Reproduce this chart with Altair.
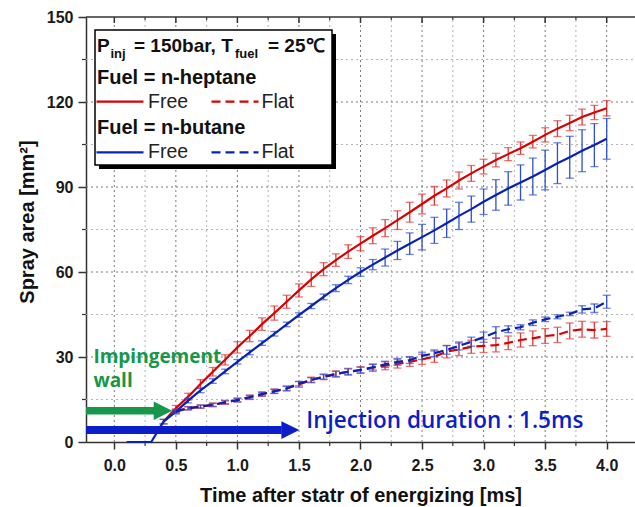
import altair as alt
import pandas as pd

# ---------------- data ----------------
time_hep_free = [0.4, 0.5, 0.6, 0.7, 0.8, 0.9, 1.0, 1.1, 1.2, 1.3, 1.4, 1.5, 1.6, 1.7, 1.8, 1.9,
                 2.0, 2.1, 2.2, 2.3, 2.4, 2.5, 2.6, 2.7, 2.8, 2.9, 3.0, 3.1, 3.2, 3.3, 3.4, 3.5,
                 3.6, 3.7, 3.8, 3.9, 4.0]
hep_free = [7.2, 11.9, 16.0, 20.5, 24.8, 29.0, 33.4, 37.4, 41.6, 45.5, 49.5, 53.5, 57.4, 61.0,
            64.2, 67.2, 70.0, 72.8, 75.5, 78.3, 81.1, 84.0, 86.9, 89.5, 92.3, 94.8, 97.2, 99.5,
            101.6, 103.7, 106.0, 108.4, 110.6, 112.6, 114.7, 116.3, 117.8]
hep_free_err = [0.8, 1.0, 1.2, 1.5, 1.5, 1.8, 2.0, 2.0, 2.2, 2.5, 2.3, 2.3, 2.5, 2.3, 2.2, 2.4,
                2.5, 2.8, 3.0, 3.3, 3.5, 3.5, 3.3, 3.0, 3.0, 2.8, 2.6, 2.4, 2.3, 2.2, 2.2, 2.5,
                2.8, 2.7, 2.8, 2.5, 2.7]

time_but_free = [0.1, 0.2, 0.3, 0.4, 0.5, 0.6, 0.7, 0.8, 0.9, 1.0, 1.1, 1.2, 1.3, 1.4, 1.5, 1.6,
                 1.7, 1.8, 1.9, 2.0, 2.1, 2.2, 2.3, 2.4, 2.5, 2.6, 2.7, 2.8, 2.9, 3.0, 3.1, 3.2,
                 3.3, 3.4, 3.5, 3.6, 3.7, 3.8, 3.9, 4.0]
but_free = [0.0, 0.0, 0.0, 7.2, 10.7, 14.6, 18.2, 21.5, 24.9, 28.3, 31.6, 34.9, 38.2, 41.5, 44.8,
            48.0, 51.2, 54.3, 57.2, 60.0, 62.6, 65.1, 67.6, 70.0, 72.3, 74.7, 77.2, 79.8, 82.2,
            84.8, 87.2, 89.5, 91.6, 93.7, 96.0, 98.4, 100.5, 102.8, 104.8, 107.0]
but_free_err = [0.0, 0.0, 0.0, 0.8, 0.8, 0.8, 0.8, 0.8, 0.8, 0.8, 0.8, 0.8, 0.8, 0.8, 0.8, 0.9,
                1.0, 1.2, 1.3, 1.5, 1.8, 3.0, 3.2, 3.8, 4.5, 4.6, 5.0, 4.8, 4.6, 4.5, 5.4, 5.9,
                6.2, 6.5, 7.0, 7.2, 7.4, 7.4, 7.6, 7.2]

time_flat = [0.5, 0.6, 0.7, 0.8, 0.9, 1.0, 1.1, 1.2, 1.3, 1.4, 1.5, 1.6, 1.7, 1.8, 1.9, 2.0,
             2.1, 2.2, 2.3, 2.4, 2.5, 2.6, 2.7, 2.8, 2.9, 3.0, 3.1, 3.2, 3.3, 3.4, 3.5, 3.6,
             3.7, 3.8, 3.9, 4.0]
hep_flat = [11.0, 11.9, 12.5, 13.1, 14.0, 14.8, 15.8, 16.9, 17.9, 18.9, 20.3, 21.9, 23.0, 24.0,
            24.8, 25.4, 26.2, 26.9, 27.6, 28.3, 29.2, 30.1, 31.9, 32.7, 33.6, 33.9, 34.2, 35.0,
            36.0, 36.6, 37.4, 37.8, 39.2, 39.8, 39.5, 39.9]
hep_flat_err = [0.6, 0.6, 0.6, 0.7, 0.7, 0.7, 0.8, 0.8, 0.8, 0.9, 1.0, 1.0, 1.0, 1.1, 1.2, 1.2,
                1.3, 1.4, 1.5, 1.6, 1.8, 2.0, 2.2, 2.2, 2.3, 2.3, 2.4, 2.4, 2.5, 2.6, 2.6, 2.7,
                2.8, 2.8, 2.8, 2.6]
but_flat = [10.7, 11.9, 12.5, 13.1, 14.0, 14.8, 15.8, 16.9, 17.9, 18.9, 20.6, 21.9, 23.0, 24.0,
            24.8, 25.4, 26.4, 27.4, 28.3, 28.9, 30.4, 31.3, 32.5, 33.9, 35.4, 37.0, 38.7, 39.8,
            40.5, 42.1, 43.3, 44.2, 45.2, 46.8, 47.2, 49.5]
but_flat_err = [0.5, 0.5, 0.5, 0.5, 0.5, 0.6, 0.6, 0.6, 0.7, 0.7, 0.8, 0.8, 0.8, 0.9, 1.0, 1.0,
                1.0, 1.1, 1.2, 1.2, 1.3, 1.2, 1.5, 1.4, 1.6, 1.8, 2.0, 1.2, 0.9, 1.0, 0.8, 0.7,
                0.6, 1.3, 1.5, 2.3]

x_major = [0.0, 0.5, 1.0, 1.5, 2.0, 2.5, 3.0, 3.5, 4.0]
x_minor = [0.25, 0.75, 1.25, 1.75, 2.25, 2.75, 3.25, 3.75]
y_major = [0, 30, 60, 90, 120, 150]
y_minor = [15, 45, 75, 105, 135]

# ---------------- styles ----------------
RED = "#d90000"
RED_ERR = "#e23a3a"
BLUE = "#0a22b0"
BLUE_ERR = "#2f4fd2"
GREEN = "#16974a"
INJ_BLUE = "#0b1ec8"
FONT = "Liberation Sans"
ANN_FONT = "Open Sans"

W, H = 549, 425
XMIN, XMAX = -0.23, 4.23
xs = alt.Scale(domain=[XMIN, XMAX], nice=False, zero=False)
ys = alt.Scale(domain=[0, 150], nice=False, zero=False)


def series_df(t, v, e):
    return pd.DataFrame({"t": t, "v": v, "lo": [a - b for a, b in zip(v, e)],
                         "hi": [a + b for a, b in zip(v, e)], "e": e})


xaxis = alt.Axis(values=x_major, format=".1f", grid=False, title="Time after statr of energizing [ms]",
                 tickSize=7, tickWidth=1.5, tickColor="#333", domainColor="#333", domainWidth=1.5,
                 labelFont=FONT, labelFontSize=16, labelFontWeight="bold", labelColor="#1a1a1a",
                 labelPadding=8, titleFont=FONT, titleFontSize=20, titleFontWeight="bold",
                 titleColor="#111", titleY=53, titleBaseline="middle")
yaxis = alt.Axis(values=y_major, grid=False, title="Spray area [mm²]",
                 tickSize=8, tickWidth=1.5, tickColor="#333", domainColor="#333", domainWidth=1.5,
                 labelFont=FONT, labelFontSize=16, labelFontWeight="bold", labelColor="#1a1a1a",
                 labelPadding=5, titleFont=FONT, titleFontSize=20, titleFontWeight="bold",
                 titleColor="#111", titleX=-59, titleY=H / 2 - 8, titleAngle=270,
                 titleAlign="center", titleBaseline="middle")

one = pd.DataFrame({"a": [0]})

# ---------------- grid ----------------
gx_major = pd.DataFrame({"x": x_major, "y0": [0] * len(x_major), "y1": [150] * len(x_major)})
gx_minor = pd.DataFrame({"x": x_minor, "y0": [0] * len(x_minor), "y1": [150] * len(x_minor)})
gy_major = pd.DataFrame({"y": y_major[1:-1], "x0": [XMIN] * 4, "x1": [XMAX] * 4})
gy_minor = pd.DataFrame({"y": y_minor, "x0": [XMIN] * 5, "x1": [XMAX] * 5})

grid_layers = [
    alt.Chart(gx_minor).mark_rule(color="#b4b4b4", strokeWidth=1, strokeDash=[2, 3]).encode(
        x=alt.X("x:Q", scale=xs, axis=xaxis), y=alt.Y("y0:Q", scale=ys, axis=yaxis), y2="y1:Q"),
    alt.Chart(gy_minor).mark_rule(color="#b4b4b4", strokeWidth=1, strokeDash=[2, 3]).encode(
        x=alt.X("x0:Q", scale=xs), x2="x1:Q", y=alt.Y("y:Q", scale=ys)),
    alt.Chart(gx_major).mark_rule(color="#7a7a7a", strokeWidth=1, strokeDash=[2, 3]).encode(
        x=alt.X("x:Q", scale=xs), y=alt.Y("y0:Q", scale=ys), y2="y1:Q"),
    alt.Chart(gy_major).mark_rule(color="#7a7a7a", strokeWidth=1, strokeDash=[2, 3]).encode(
        x=alt.X("x0:Q", scale=xs), x2="x1:Q", y=alt.Y("y:Q", scale=ys)),
]

# frame top line and extra ticks
tick_layers = [
    alt.Chart(one).mark_rule(color="#333", strokeWidth=1.5).encode(
        x=alt.value(0), x2=alt.value(W), y=alt.value(0)),
    alt.Chart(pd.DataFrame({"x": x_major})).mark_rule(color="#333", strokeWidth=1.5).encode(
        x=alt.X("x:Q", scale=xs), y=alt.value(0), y2=alt.value(6)),
    alt.Chart(pd.DataFrame({"x": x_minor})).mark_rule(color="#333", strokeWidth=1.2).encode(
        x=alt.X("x:Q", scale=xs), y=alt.value(0), y2=alt.value(3)),
    alt.Chart(pd.DataFrame({"x": x_minor})).mark_rule(color="#333", strokeWidth=1.2).encode(
        x=alt.X("x:Q", scale=xs), y=alt.value(H), y2=alt.value(H + 4)),
    alt.Chart(pd.DataFrame({"y": y_minor})).mark_rule(color="#333", strokeWidth=1.2).encode(
        y=alt.Y("y:Q", scale=ys), x=alt.value(-4), x2=alt.value(0)),
]


# ---------------- series ----------------
def series_layers(df, line_color, err_color, dash):
    d = df[df["e"] > 0]
    err = alt.Chart(d).mark_rule(color=err_color, strokeWidth=1.3).encode(
        x=alt.X("t:Q", scale=xs), y=alt.Y("lo:Q", scale=ys), y2="hi:Q")
    cap_lo = alt.Chart(d).mark_tick(color=err_color, orient="horizontal", size=8, thickness=1.3).encode(
        x=alt.X("t:Q", scale=xs), y=alt.Y("lo:Q", scale=ys))
    cap_hi = alt.Chart(d).mark_tick(color=err_color, orient="horizontal", size=8, thickness=1.3).encode(
        x=alt.X("t:Q", scale=xs), y=alt.Y("hi:Q", scale=ys))
    props = dict(color=line_color, strokeWidth=2.2)
    if dash:
        props["strokeDash"] = dash
    line = alt.Chart(df).mark_line(**props).encode(
        x=alt.X("t:Q", scale=xs), y=alt.Y("v:Q", scale=ys), order="t:Q")
    return [err, cap_lo, cap_hi, line]


data_layers = []
data_layers += series_layers(series_df(time_hep_free, hep_free, hep_free_err), RED, RED_ERR, None)
data_layers += series_layers(series_df(time_flat, hep_flat, hep_flat_err), RED, RED_ERR, [9, 5])
data_layers += series_layers(series_df(time_but_free, but_free, but_free_err), BLUE, BLUE_ERR, None)
data_layers += series_layers(series_df(time_flat, but_flat, but_flat_err), BLUE, BLUE_ERR, [9, 5])

# ---------------- annotations (arrows & texts, in data units) ----------------
TRI = "M -1 -1 L 1 0 L -1 1 Z"
ann_layers = [
    alt.Chart(pd.DataFrame({"x0": [XMIN], "x1": [0.34], "y": [11.0]})).mark_rule(
        color=GREEN, strokeWidth=7.5, strokeCap="butt").encode(
        x=alt.X("x0:Q", scale=xs), x2="x1:Q", y=alt.Y("y:Q", scale=ys)),
    alt.Chart(pd.DataFrame({"x": [0.395], "y": [11.0]})).mark_point(
        shape=TRI, size=340, filled=True, color=GREEN, opacity=1).encode(
        x=alt.X("x:Q", scale=xs), y=alt.Y("y:Q", scale=ys)),
    alt.Chart(pd.DataFrame({"x0": [XMIN], "x1": [1.36], "y": [4.2]})).mark_rule(
        color=INJ_BLUE, strokeWidth=8, strokeCap="butt").encode(
        x=alt.X("x0:Q", scale=xs), x2="x1:Q", y=alt.Y("y:Q", scale=ys)),
    alt.Chart(pd.DataFrame({"x": [1.43], "y": [4.2]})).mark_point(
        shape=TRI, size=320, filled=True, color=INJ_BLUE, opacity=1).encode(
        x=alt.X("x:Q", scale=xs), y=alt.Y("y:Q", scale=ys)),
    alt.Chart(pd.DataFrame({"x": [-0.17, -0.17], "y": [27.8, 19.5], "t": ["Impingement", "wall"]})).mark_text(
        font=ANN_FONT, fontSize=19, fontWeight="bold", color=GREEN, align="left", baseline="alphabetic").encode(
        x=alt.X("x:Q", scale=xs), y=alt.Y("y:Q", scale=ys), text="t:N"),
    alt.Chart(pd.DataFrame({"x": [1.56], "y": [4.8], "t": ["Injection duration : 1.5ms"]})).mark_text(
        font=ANN_FONT, fontSize=22.5, fontWeight=600, color=INJ_BLUE, align="left", baseline="alphabetic").encode(
        x=alt.X("x:Q", scale=xs), y=alt.Y("y:Q", scale=ys), text="t:N"),
]


# ---------------- legend box (pixel layout) ----------------
def txt(s, x, y, size=19, weight="bold", color="#111"):
    return alt.Chart(one).mark_text(text=s, font=FONT, fontSize=size, fontWeight=weight, color=color,
                                    align="left", baseline="alphabetic").encode(
        x=alt.value(x), y=alt.value(y))


def seg(x0, x1, y, color, dash=None):
    props = dict(color=color, strokeWidth=2.2)
    if dash:
        props["strokeDash"] = dash
    return alt.Chart(one).mark_rule(**props).encode(x=alt.value(x0), x2=alt.value(x1), y=alt.value(y))


legend_layers = [
    alt.Chart(one).mark_rect(color="black").encode(
        x=alt.value(13), x2=alt.value(250), y=alt.value(17), y2=alt.value(152)),
    alt.Chart(one).mark_rect(fill="white", stroke="black", strokeWidth=1.5).encode(
        x=alt.value(9), x2=alt.value(246), y=alt.value(13), y2=alt.value(148)),
    txt("P", 11, 35),
    txt("inj", 24.5, 40.5, size=13),
    txt("= 150bar, T", 48, 35),
    txt("fuel", 149, 40.5, size=13),
    txt("= 25℃", 182, 35),
    txt("Fuel = n-heptane", 11, 67, size=20),
    seg(10.5, 57.5, 84.7, RED),
    txt("Free", 62, 91, size=19.5, weight="normal", color="#222"),
    seg(125.5, 172.5, 84.7, RED, [9, 5]),
    txt("Flat", 175.5, 91, size=19.5, weight="normal", color="#222"),
    txt("Fuel = n-butane", 11, 116.5, size=20),
    seg(10.5, 57.5, 135.3, BLUE),
    txt("Free", 62, 141, size=19.5, weight="normal", color="#222"),
    seg(125.5, 172.5, 135.3, BLUE, [9, 5]),
    txt("Flat", 175.5, 141, size=19.5, weight="normal", color="#222"),
]

chart = alt.layer(*grid_layers, *tick_layers, *data_layers, *ann_layers, *legend_layers).properties(
    width=W, height=H,
    autosize=alt.AutoSizeParams(type="none"),
    padding={"left": 86, "top": 17, "right": 0, "bottom": 65},
    background="white",
).configure_view(stroke=None)

chart.save("out.html", embed_options={"renderer": "svg", "actions": False})
